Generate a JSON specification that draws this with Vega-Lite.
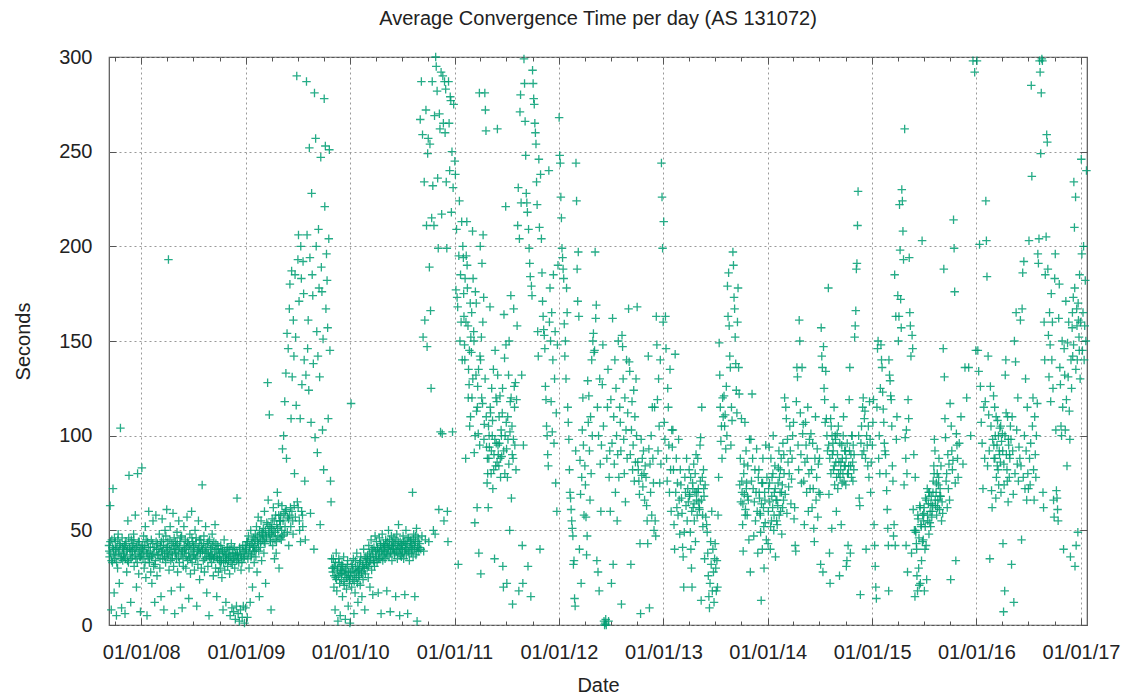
{
"$schema":"https://vega.github.io/schema/vega-lite/v6.json",
"width":978,"height":568,"autosize":"none",
"padding":{"left":109,"top":57,"right":37,"bottom":70},
"background":"white",
"title":{"text":"Average Convergence Time per day (AS 131072)","font":"Liberation Sans","fontSize":20,"fontWeight":"normal","color":"#222","offset":18},
"config":{"view":{"stroke":"#555","strokeWidth":1.2}},
"data":{"values":[
{"day":"2007-09-10","sec":42},{"day":"2007-09-12","sec":36},{"day":"2007-09-14","sec":63},{"day":"2007-09-16","sec":38},{"day":"2007-09-18","sec":8},{"day":"2007-09-20","sec":45},{"day":"2007-09-22","sec":33},{"day":"2007-09-24","sec":72},{"day":"2007-09-26","sec":40},{"day":"2007-09-28","sec":17},{"day":"2007-09-30","sec":35},
{"day":"2007-10-02","sec":44},{"day":"2007-10-04","sec":37},{"day":"2007-10-06","sec":5},{"day":"2007-10-08","sec":41},{"day":"2007-10-10","sec":30},{"day":"2007-10-12","sec":48},{"day":"2007-10-14","sec":39},{"day":"2007-10-16","sec":22},{"day":"2007-10-18","sec":43},{"day":"2007-10-20","sec":104},{"day":"2007-10-22","sec":36},{"day":"2007-10-24","sec":9},{"day":"2007-10-26","sec":46},{"day":"2007-10-28","sec":34},{"day":"2007-10-30","sec":40},
{"day":"2007-11-01","sec":38},{"day":"2007-11-03","sec":42},{"day":"2007-11-05","sec":6},{"day":"2007-11-07","sec":35},{"day":"2007-11-09","sec":44},{"day":"2007-11-11","sec":28},{"day":"2007-11-13","sec":40},{"day":"2007-11-15","sec":55},{"day":"2007-11-17","sec":33},{"day":"2007-11-19","sec":79},{"day":"2007-11-21","sec":41},{"day":"2007-11-23","sec":37},{"day":"2007-11-25","sec":12},{"day":"2007-11-27","sec":45},{"day":"2007-11-29","sec":39},
{"day":"2007-12-01","sec":36},{"day":"2007-12-03","sec":43},{"day":"2007-12-05","sec":48},{"day":"2007-12-07","sec":31},{"day":"2007-12-09","sec":40},{"day":"2007-12-11","sec":58},{"day":"2007-12-13","sec":35},{"day":"2007-12-15","sec":20},{"day":"2007-12-17","sec":42},{"day":"2007-12-19","sec":80},{"day":"2007-12-21","sec":38},{"day":"2007-12-23","sec":27},{"day":"2007-12-25","sec":44},{"day":"2007-12-27","sec":36},{"day":"2007-12-29","sec":7},{"day":"2007-12-31","sec":41},
{"day":"2008-01-03","sec":83},{"day":"2008-01-05","sec":40},{"day":"2008-01-07","sec":35},{"day":"2008-01-09","sec":47},{"day":"2008-01-11","sec":30},{"day":"2008-01-13","sec":42},{"day":"2008-01-15","sec":52},{"day":"2008-01-17","sec":25},{"day":"2008-01-19","sec":38},{"day":"2008-01-21","sec":5},{"day":"2008-01-23","sec":44},{"day":"2008-01-25","sec":36},{"day":"2008-01-27","sec":60},{"day":"2008-01-29","sec":33},
{"day":"2008-02-01","sec":39},{"day":"2008-02-03","sec":28},{"day":"2008-02-05","sec":45},{"day":"2008-02-07","sec":22},{"day":"2008-02-09","sec":37},{"day":"2008-02-11","sec":55},{"day":"2008-02-13","sec":31},{"day":"2008-02-15","sec":41},{"day":"2008-02-17","sec":12},{"day":"2008-02-19","sec":34},{"day":"2008-02-21","sec":58},{"day":"2008-02-23","sec":40},{"day":"2008-02-25","sec":26},{"day":"2008-02-27","sec":43},
{"day":"2008-03-02","sec":37},{"day":"2008-03-04","sec":48},{"day":"2008-03-06","sec":30},{"day":"2008-03-08","sec":42},{"day":"2008-03-10","sec":15},{"day":"2008-03-12","sec":39},{"day":"2008-03-14","sec":56},{"day":"2008-03-16","sec":35},{"day":"2008-03-18","sec":45},{"day":"2008-03-20","sec":8},{"day":"2008-03-22","sec":38},{"day":"2008-03-24","sec":50},{"day":"2008-03-26","sec":33},{"day":"2008-03-28","sec":41},{"day":"2008-03-30","sec":61},
{"day":"2008-04-01","sec":36},{"day":"2008-04-03","sec":44},{"day":"2008-04-05","sec":193},{"day":"2008-04-07","sec":29},{"day":"2008-04-09","sec":40},{"day":"2008-04-11","sec":52},{"day":"2008-04-13","sec":34},{"day":"2008-04-15","sec":18},{"day":"2008-04-17","sec":43},{"day":"2008-04-19","sec":37},{"day":"2008-04-21","sec":59},{"day":"2008-04-23","sec":31},{"day":"2008-04-25","sec":46},{"day":"2008-04-27","sec":6},{"day":"2008-04-29","sec":38},
{"day":"2008-05-01","sec":42},{"day":"2008-05-03","sec":35},{"day":"2008-05-05","sec":49},{"day":"2008-05-07","sec":28},{"day":"2008-05-09","sec":40},{"day":"2008-05-11","sec":55},{"day":"2008-05-13","sec":33},{"day":"2008-05-15","sec":44},{"day":"2008-05-17","sec":20},{"day":"2008-05-19","sec":37},{"day":"2008-05-21","sec":47},{"day":"2008-05-23","sec":9},{"day":"2008-05-25","sec":39},{"day":"2008-05-27","sec":31},{"day":"2008-05-29","sec":52},
{"day":"2008-06-01","sec":38},{"day":"2008-06-03","sec":45},{"day":"2008-06-05","sec":30},{"day":"2008-06-07","sec":41},{"day":"2008-06-09","sec":57},{"day":"2008-06-11","sec":34},{"day":"2008-06-13","sec":43},{"day":"2008-06-15","sec":14},{"day":"2008-06-17","sec":36},{"day":"2008-06-19","sec":48},{"day":"2008-06-21","sec":27},{"day":"2008-06-23","sec":40},{"day":"2008-06-25","sec":60},{"day":"2008-06-27","sec":33},{"day":"2008-06-29","sec":44},
{"day":"2008-07-01","sec":37},{"day":"2008-07-03","sec":42},{"day":"2008-07-05","sec":29},{"day":"2008-07-07","sec":50},{"day":"2008-07-09","sec":35},{"day":"2008-07-11","sec":46},{"day":"2008-07-13","sec":10},{"day":"2008-07-15","sec":39},{"day":"2008-07-17","sec":32},{"day":"2008-07-19","sec":55},{"day":"2008-07-21","sec":41},{"day":"2008-07-23","sec":24},{"day":"2008-07-25","sec":38},{"day":"2008-07-27","sec":45},{"day":"2008-07-29","sec":30},
{"day":"2008-08-01","sec":74},{"day":"2008-08-03","sec":40},{"day":"2008-08-05","sec":34},{"day":"2008-08-07","sec":47},{"day":"2008-08-09","sec":28},{"day":"2008-08-11","sec":39},{"day":"2008-08-13","sec":52},{"day":"2008-08-15","sec":36},{"day":"2008-08-17","sec":17},{"day":"2008-08-19","sec":43},{"day":"2008-08-21","sec":31},{"day":"2008-08-23","sec":38},{"day":"2008-08-25","sec":5},{"day":"2008-08-27","sec":45},{"day":"2008-08-29","sec":35},
{"day":"2008-09-01","sec":41},{"day":"2008-09-03","sec":33},{"day":"2008-09-05","sec":48},{"day":"2008-09-07","sec":37},{"day":"2008-09-09","sec":26},{"day":"2008-09-11","sec":44},{"day":"2008-09-13","sec":36},{"day":"2008-09-15","sec":53},{"day":"2008-09-17","sec":30},{"day":"2008-09-19","sec":40},{"day":"2008-09-21","sec":15},{"day":"2008-09-23","sec":35},{"day":"2008-09-25","sec":42},{"day":"2008-09-27","sec":28},{"day":"2008-09-29","sec":38},
{"day":"2008-10-01","sec":36},{"day":"2008-10-03","sec":30},{"day":"2008-10-05","sec":42},{"day":"2008-10-07","sec":34},{"day":"2008-10-09","sec":25},{"day":"2008-10-11","sec":39},{"day":"2008-10-13","sec":8},{"day":"2008-10-15","sec":33},{"day":"2008-10-17","sec":45},{"day":"2008-10-19","sec":29},{"day":"2008-10-21","sec":37},{"day":"2008-10-23","sec":12},{"day":"2008-10-25","sec":35},{"day":"2008-10-27","sec":41},{"day":"2008-10-29","sec":31},
{"day":"2008-11-01","sec":34},{"day":"2008-11-03","sec":38},{"day":"2008-11-05","sec":27},{"day":"2008-11-07","sec":5},{"day":"2008-11-09","sec":36},{"day":"2008-11-11","sec":43},{"day":"2008-11-13","sec":9},{"day":"2008-11-15","sec":32},{"day":"2008-11-17","sec":40},{"day":"2008-11-19","sec":7},{"day":"2008-11-21","sec":35},{"day":"2008-11-23","sec":30},{"day":"2008-11-25","sec":3},{"day":"2008-11-27","sec":38},{"day":"2008-11-29","sec":10},
{"day":"2008-12-01","sec":67},{"day":"2008-12-03","sec":37},{"day":"2008-12-05","sec":6},{"day":"2008-12-07","sec":33},{"day":"2008-12-09","sec":2},{"day":"2008-12-11","sec":40},{"day":"2008-12-13","sec":8},{"day":"2008-12-15","sec":29},{"day":"2008-12-17","sec":36},{"day":"2008-12-19","sec":4},{"day":"2008-12-21","sec":42},{"day":"2008-12-23","sec":10},{"day":"2008-12-25","sec":35},{"day":"2008-12-27","sec":1},{"day":"2008-12-29","sec":39},{"day":"2008-12-31","sec":9},
{"day":"2009-01-02","sec":38},{"day":"2009-01-04","sec":44},{"day":"2009-01-06","sec":4},{"day":"2009-01-08","sec":35},{"day":"2009-01-10","sec":47},{"day":"2009-01-12","sec":30},{"day":"2009-01-14","sec":41},{"day":"2009-01-16","sec":12},{"day":"2009-01-18","sec":50},{"day":"2009-01-20","sec":37},{"day":"2009-01-22","sec":43},{"day":"2009-01-24","sec":20},{"day":"2009-01-26","sec":39},{"day":"2009-01-28","sec":46},{"day":"2009-01-30","sec":33},
{"day":"2009-02-01","sec":42},{"day":"2009-02-03","sec":48},{"day":"2009-02-05","sec":36},{"day":"2009-02-07","sec":52},{"day":"2009-02-09","sec":28},{"day":"2009-02-11","sec":44},{"day":"2009-02-13","sec":57},{"day":"2009-02-15","sec":39},{"day":"2009-02-17","sec":15},{"day":"2009-02-19","sec":46},{"day":"2009-02-21","sec":41},{"day":"2009-02-23","sec":55},{"day":"2009-02-25","sec":34},{"day":"2009-02-27","sec":49},
{"day":"2009-03-01","sec":45},{"day":"2009-03-03","sec":51},{"day":"2009-03-05","sec":38},{"day":"2009-03-07","sec":60},{"day":"2009-03-09","sec":43},{"day":"2009-03-11","sec":22},{"day":"2009-03-13","sec":47},{"day":"2009-03-15","sec":54},{"day":"2009-03-18","sec":128},{"day":"2009-03-20","sec":66},{"day":"2009-03-22","sec":49},{"day":"2009-03-24","sec":111},{"day":"2009-03-26","sec":52},{"day":"2009-03-28","sec":44},{"day":"2009-03-30","sec":8},
{"day":"2009-04-01","sec":48},{"day":"2009-04-03","sec":56},{"day":"2009-04-05","sec":42},{"day":"2009-04-07","sec":62},{"day":"2009-04-09","sec":50},{"day":"2009-04-11","sec":35},{"day":"2009-04-13","sec":45},{"day":"2009-04-15","sec":58},{"day":"2009-04-17","sec":38},{"day":"2009-04-19","sec":53},{"day":"2009-04-21","sec":70},{"day":"2009-04-23","sec":47},{"day":"2009-04-25","sec":64},{"day":"2009-04-27","sec":30},{"day":"2009-04-29","sec":55},
{"day":"2009-05-01","sec":52},{"day":"2009-05-03","sec":58},{"day":"2009-05-05","sec":45},{"day":"2009-05-07","sec":63},{"day":"2009-05-09","sec":93},{"day":"2009-05-11","sec":55},{"day":"2009-05-13","sec":100},{"day":"2009-05-15","sec":48},{"day":"2009-05-17","sec":118},{"day":"2009-05-19","sec":60},{"day":"2009-05-21","sec":133},{"day":"2009-05-23","sec":88},{"day":"2009-05-25","sec":154},{"day":"2009-05-27","sec":57},{"day":"2009-05-29","sec":146},{"day":"2009-05-31","sec":42},
{"day":"2009-06-02","sec":167},{"day":"2009-06-04","sec":180},{"day":"2009-06-06","sec":62},{"day":"2009-06-08","sec":109},{"day":"2009-06-10","sec":187},{"day":"2009-06-12","sec":131},{"day":"2009-06-14","sec":55},{"day":"2009-06-16","sec":161},{"day":"2009-06-18","sec":142},{"day":"2009-06-20","sec":80},{"day":"2009-06-22","sec":185},{"day":"2009-06-24","sec":152},{"day":"2009-06-26","sec":116},{"day":"2009-06-28","sec":290},{"day":"2009-06-30","sec":65},
{"day":"2009-07-02","sec":193},{"day":"2009-07-04","sec":206},{"day":"2009-07-06","sec":171},{"day":"2009-07-08","sec":50},{"day":"2009-07-10","sec":109},{"day":"2009-07-12","sec":200},{"day":"2009-07-14","sec":183},{"day":"2009-07-16","sec":127},{"day":"2009-07-18","sec":58},{"day":"2009-07-20","sec":192},{"day":"2009-07-22","sec":175},{"day":"2009-07-24","sec":140},{"day":"2009-07-26","sec":76},{"day":"2009-07-28","sec":45},{"day":"2009-07-30","sec":132},
{"day":"2009-08-01","sec":287},{"day":"2009-08-03","sec":206},{"day":"2009-08-05","sec":146},{"day":"2009-08-07","sec":161},{"day":"2009-08-09","sec":124},{"day":"2009-08-11","sec":252},{"day":"2009-08-13","sec":194},{"day":"2009-08-15","sec":59},{"day":"2009-08-17","sec":107},{"day":"2009-08-19","sec":228},{"day":"2009-08-21","sec":185},{"day":"2009-08-23","sec":174},{"day":"2009-08-25","sec":138},{"day":"2009-08-27","sec":40},{"day":"2009-08-29","sec":281},{"day":"2009-08-31","sec":99},
{"day":"2009-09-02","sec":257},{"day":"2009-09-04","sec":200},{"day":"2009-09-06","sec":155},{"day":"2009-09-08","sec":91},{"day":"2009-09-10","sec":142},{"day":"2009-09-12","sec":209},{"day":"2009-09-14","sec":178},{"day":"2009-09-16","sec":131},{"day":"2009-09-18","sec":53},{"day":"2009-09-20","sec":247},{"day":"2009-09-22","sec":189},{"day":"2009-09-24","sec":176},{"day":"2009-09-26","sec":103},{"day":"2009-09-28","sec":151},{"day":"2009-09-30","sec":82},
{"day":"2009-10-02","sec":278},{"day":"2009-10-04","sec":221},{"day":"2009-10-06","sec":253},{"day":"2009-10-08","sec":167},{"day":"2009-10-10","sec":196},{"day":"2009-10-12","sec":182},{"day":"2009-10-14","sec":157},{"day":"2009-10-16","sec":109},{"day":"2009-10-18","sec":204},{"day":"2009-10-20","sec":251},{"day":"2009-10-22","sec":145},{"day":"2009-10-24","sec":76},{"day":"2009-10-26","sec":65},{"day":"2009-10-28","sec":35},{"day":"2009-10-30","sec":30},
{"day":"2009-11-01","sec":28},{"day":"2009-11-03","sec":35},{"day":"2009-11-05","sec":20},{"day":"2009-11-07","sec":31},{"day":"2009-11-09","sec":8},{"day":"2009-11-11","sec":25},{"day":"2009-11-13","sec":38},{"day":"2009-11-15","sec":18},{"day":"2009-11-17","sec":30},{"day":"2009-11-19","sec":2},{"day":"2009-11-21","sec":26},{"day":"2009-11-23","sec":33},{"day":"2009-11-25","sec":22},{"day":"2009-11-27","sec":5},{"day":"2009-11-29","sec":29},
{"day":"2009-12-01","sec":24},{"day":"2009-12-03","sec":32},{"day":"2009-12-05","sec":15},{"day":"2009-12-07","sec":28},{"day":"2009-12-09","sec":36},{"day":"2009-12-11","sec":21},{"day":"2009-12-13","sec":27},{"day":"2009-12-15","sec":3},{"day":"2009-12-17","sec":30},{"day":"2009-12-19","sec":19},{"day":"2009-12-21","sec":25},{"day":"2009-12-23","sec":34},{"day":"2009-12-25","sec":10},{"day":"2009-12-27","sec":26},{"day":"2009-12-29","sec":22},{"day":"2009-12-31","sec":1},
{"day":"2010-01-02","sec":28},{"day":"2010-01-04","sec":117},{"day":"2010-01-06","sec":20},{"day":"2010-01-08","sec":31},{"day":"2010-01-10","sec":24},{"day":"2010-01-12","sec":35},{"day":"2010-01-14","sec":6},{"day":"2010-01-16","sec":27},{"day":"2010-01-18","sec":17},{"day":"2010-01-20","sec":30},{"day":"2010-01-22","sec":25},{"day":"2010-01-24","sec":38},{"day":"2010-01-26","sec":22},{"day":"2010-01-28","sec":12},{"day":"2010-01-30","sec":29},
{"day":"2010-02-01","sec":26},{"day":"2010-02-03","sec":33},{"day":"2010-02-05","sec":21},{"day":"2010-02-07","sec":36},{"day":"2010-02-09","sec":28},{"day":"2010-02-11","sec":15},{"day":"2010-02-13","sec":31},{"day":"2010-02-15","sec":24},{"day":"2010-02-17","sec":40},{"day":"2010-02-19","sec":30},{"day":"2010-02-21","sec":8},{"day":"2010-02-23","sec":27},{"day":"2010-02-25","sec":35},{"day":"2010-02-27","sec":32},
{"day":"2010-03-01","sec":30},{"day":"2010-03-03","sec":37},{"day":"2010-03-05","sec":25},{"day":"2010-03-07","sec":42},{"day":"2010-03-09","sec":33},{"day":"2010-03-11","sec":20},{"day":"2010-03-13","sec":36},{"day":"2010-03-15","sec":45},{"day":"2010-03-17","sec":29},{"day":"2010-03-19","sec":39},{"day":"2010-03-21","sec":16},{"day":"2010-03-23","sec":34},{"day":"2010-03-25","sec":41},{"day":"2010-03-27","sec":31},{"day":"2010-03-29","sec":47},
{"day":"2010-04-01","sec":36},{"day":"2010-04-03","sec":44},{"day":"2010-04-05","sec":33},{"day":"2010-04-07","sec":40},{"day":"2010-04-09","sec":17},{"day":"2010-04-11","sec":38},{"day":"2010-04-13","sec":46},{"day":"2010-04-15","sec":35},{"day":"2010-04-17","sec":42},{"day":"2010-04-19","sec":6},{"day":"2010-04-21","sec":39},{"day":"2010-04-23","sec":48},{"day":"2010-04-25","sec":34},{"day":"2010-04-27","sec":43},{"day":"2010-04-29","sec":37},
{"day":"2010-05-01","sec":41},{"day":"2010-05-03","sec":35},{"day":"2010-05-05","sec":45},{"day":"2010-05-07","sec":38},{"day":"2010-05-09","sec":18},{"day":"2010-05-11","sec":44},{"day":"2010-05-13","sec":40},{"day":"2010-05-15","sec":50},{"day":"2010-05-17","sec":36},{"day":"2010-05-19","sec":42},{"day":"2010-05-21","sec":7},{"day":"2010-05-23","sec":39},{"day":"2010-05-25","sec":47},{"day":"2010-05-27","sec":34},{"day":"2010-05-29","sec":44},
{"day":"2010-06-01","sec":40},{"day":"2010-06-03","sec":46},{"day":"2010-06-05","sec":37},{"day":"2010-06-07","sec":43},{"day":"2010-06-09","sec":15},{"day":"2010-06-11","sec":39},{"day":"2010-06-13","sec":48},{"day":"2010-06-15","sec":35},{"day":"2010-06-17","sec":42},{"day":"2010-06-19","sec":53},{"day":"2010-06-21","sec":38},{"day":"2010-06-23","sec":5},{"day":"2010-06-25","sec":44},{"day":"2010-06-27","sec":40},{"day":"2010-06-29","sec":36},
{"day":"2010-07-01","sec":42},{"day":"2010-07-03","sec":38},{"day":"2010-07-05","sec":47},{"day":"2010-07-07","sec":35},{"day":"2010-07-09","sec":44},{"day":"2010-07-11","sec":16},{"day":"2010-07-13","sec":40},{"day":"2010-07-15","sec":50},{"day":"2010-07-17","sec":37},{"day":"2010-07-19","sec":43},{"day":"2010-07-21","sec":6},{"day":"2010-07-23","sec":39},{"day":"2010-07-25","sec":46},{"day":"2010-07-27","sec":34},{"day":"2010-07-29","sec":41},
{"day":"2010-08-01","sec":45},{"day":"2010-08-03","sec":38},{"day":"2010-08-05","sec":42},{"day":"2010-08-07","sec":70},{"day":"2010-08-09","sec":36},{"day":"2010-08-11","sec":48},{"day":"2010-08-13","sec":40},{"day":"2010-08-15","sec":15},{"day":"2010-08-17","sec":44},{"day":"2010-08-19","sec":37},{"day":"2010-08-21","sec":51},{"day":"2010-08-23","sec":2},{"day":"2010-08-25","sec":41},{"day":"2010-08-27","sec":46},{"day":"2010-08-29","sec":39},
{"day":"2010-09-01","sec":43},{"day":"2010-09-03","sec":267},{"day":"2010-09-05","sec":40},{"day":"2010-09-07","sec":287},{"day":"2010-09-09","sec":47},{"day":"2010-09-11","sec":259},{"day":"2010-09-13","sec":152},{"day":"2010-09-15","sec":39},{"day":"2010-09-17","sec":234},{"day":"2010-09-19","sec":161},{"day":"2010-09-21","sec":45},{"day":"2010-09-23","sec":272},{"day":"2010-09-25","sec":211},{"day":"2010-09-27","sec":147},{"day":"2010-09-29","sec":249},
{"day":"2010-10-01","sec":257},{"day":"2010-10-03","sec":44},{"day":"2010-10-05","sec":189},{"day":"2010-10-07","sec":254},{"day":"2010-10-09","sec":166},{"day":"2010-10-11","sec":125},{"day":"2010-10-13","sec":215},{"day":"2010-10-15","sec":287},{"day":"2010-10-17","sec":232},{"day":"2010-10-19","sec":50},{"day":"2010-10-21","sec":211},{"day":"2010-10-23","sec":269},{"day":"2010-10-25","sec":48},{"day":"2010-10-27","sec":300},{"day":"2010-10-29","sec":295},
{"day":"2010-11-01","sec":282},{"day":"2010-11-03","sec":236},{"day":"2010-11-05","sec":199},{"day":"2010-11-07","sec":61},{"day":"2010-11-09","sec":270},{"day":"2010-11-11","sec":262},{"day":"2010-11-13","sec":102},{"day":"2010-11-15","sec":292},{"day":"2010-11-17","sec":217},{"day":"2010-11-19","sec":101},{"day":"2010-11-21","sec":290},{"day":"2010-11-23","sec":265},{"day":"2010-11-25","sec":55},{"day":"2010-11-27","sec":287},{"day":"2010-11-29","sec":260},
{"day":"2010-12-01","sec":283},{"day":"2010-12-03","sec":234},{"day":"2010-12-05","sec":199},{"day":"2010-12-07","sec":60},{"day":"2010-12-09","sec":44},{"day":"2010-12-11","sec":287},{"day":"2010-12-13","sec":265},{"day":"2010-12-15","sec":240},{"day":"2010-12-17","sec":279},{"day":"2010-12-19","sec":277},{"day":"2010-12-21","sec":218},{"day":"2010-12-23","sec":250},{"day":"2010-12-25","sec":102},{"day":"2010-12-27","sec":231},{"day":"2010-12-29","sec":275},
{"day":"2011-01-02","sec":245},{"day":"2011-01-04","sec":238},{"day":"2011-01-06","sec":177},{"day":"2011-01-08","sec":209},{"day":"2011-01-10","sec":173},{"day":"2011-01-12","sec":168},{"day":"2011-01-14","sec":32},{"day":"2011-01-16","sec":195},{"day":"2011-01-18","sec":224},{"day":"2011-01-20","sec":150},{"day":"2011-01-22","sec":185},{"day":"2011-01-24","sec":160},{"day":"2011-01-26","sec":213},{"day":"2011-01-28","sec":140},{"day":"2011-01-30","sec":200},
{"day":"2011-02-01","sec":194},{"day":"2011-02-03","sec":163},{"day":"2011-02-05","sec":148},{"day":"2011-02-07","sec":183},{"day":"2011-02-09","sec":88},{"day":"2011-02-11","sec":195},{"day":"2011-02-13","sec":213},{"day":"2011-02-15","sec":178},{"day":"2011-02-17","sec":158},{"day":"2011-02-19","sec":135},{"day":"2011-02-21","sec":127},{"day":"2011-02-23","sec":105},{"day":"2011-02-25","sec":170},{"day":"2011-02-27","sec":152},
{"day":"2011-03-01","sec":144},{"day":"2011-03-03","sec":120},{"day":"2011-03-05","sec":208},{"day":"2011-03-07","sec":183},{"day":"2011-03-09","sec":155},{"day":"2011-03-11","sec":91},{"day":"2011-03-13","sec":54},{"day":"2011-03-15","sec":176},{"day":"2011-03-17","sec":132},{"day":"2011-03-19","sec":113},{"day":"2011-03-21","sec":62},{"day":"2011-03-23","sec":126},{"day":"2011-03-25","sec":101},{"day":"2011-03-27","sec":38},{"day":"2011-03-29","sec":281},{"day":"2011-03-31","sec":142},
{"day":"2011-04-01","sec":200},{"day":"2011-04-03","sec":27},{"day":"2011-04-05","sec":152},{"day":"2011-04-07","sec":191},{"day":"2011-04-09","sec":117},{"day":"2011-04-11","sec":206},{"day":"2011-04-13","sec":173},{"day":"2011-04-15","sec":106},{"day":"2011-04-17","sec":281},{"day":"2011-04-19","sec":272},{"day":"2011-04-21","sec":261},{"day":"2011-04-23","sec":94},{"day":"2011-04-25","sec":75},{"day":"2011-04-27","sec":80},{"day":"2011-04-29","sec":62},
{"day":"2011-05-01","sec":88},{"day":"2011-05-03","sec":94},{"day":"2011-05-05","sec":168},{"day":"2011-05-07","sec":112},{"day":"2011-05-09","sec":80},{"day":"2011-05-11","sec":125},{"day":"2011-05-13","sec":100},{"day":"2011-05-15","sec":72},{"day":"2011-05-17","sec":135},{"day":"2011-05-19","sec":90},{"day":"2011-05-21","sec":35},{"day":"2011-05-23","sec":145},{"day":"2011-05-25","sec":84},{"day":"2011-05-27","sec":96},{"day":"2011-05-29","sec":118},{"day":"2011-05-31","sec":262},
{"day":"2011-06-01","sec":132},{"day":"2011-06-03","sec":90},{"day":"2011-06-05","sec":84},{"day":"2011-06-07","sec":96},{"day":"2011-06-09","sec":121},{"day":"2011-06-11","sec":78},{"day":"2011-06-13","sec":103},{"day":"2011-06-15","sec":89},{"day":"2011-06-17","sec":112},{"day":"2011-06-19","sec":31},{"day":"2011-06-21","sec":20},{"day":"2011-06-23","sec":164},{"day":"2011-06-25","sec":141},{"day":"2011-06-27","sec":100},{"day":"2011-06-29","sec":221},{"day":"2011-06-30","sec":148},
{"day":"2011-07-01","sec":107},{"day":"2011-07-03","sec":22},{"day":"2011-07-05","sec":78},{"day":"2011-07-07","sec":98},{"day":"2011-07-09","sec":132},{"day":"2011-07-11","sec":150},{"day":"2011-07-13","sec":50},{"day":"2011-07-15","sec":118},{"day":"2011-07-17","sec":174},{"day":"2011-07-19","sec":67},{"day":"2011-07-21","sec":105},{"day":"2011-07-23","sec":11},{"day":"2011-07-25","sec":88},{"day":"2011-07-27","sec":167},{"day":"2011-07-29","sec":126},{"day":"2011-07-31","sec":95},
{"day":"2011-08-02","sec":128},{"day":"2011-08-04","sec":82},{"day":"2011-08-06","sec":119},{"day":"2011-08-08","sec":158},{"day":"2011-08-10","sec":211},{"day":"2011-08-12","sec":231},{"day":"2011-08-14","sec":18},{"day":"2011-08-16","sec":204},{"day":"2011-08-18","sec":271},{"day":"2011-08-20","sec":280},{"day":"2011-08-22","sec":223},{"day":"2011-08-24","sec":132},{"day":"2011-08-26","sec":42},{"day":"2011-08-28","sec":22},{"day":"2011-08-30","sec":95},
{"day":"2011-09-01","sec":299},{"day":"2011-09-03","sec":286},{"day":"2011-09-05","sec":266},{"day":"2011-09-07","sec":248},{"day":"2011-09-09","sec":228},{"day":"2011-09-11","sec":223},{"day":"2011-09-13","sec":218},{"day":"2011-09-15","sec":31},{"day":"2011-09-17","sec":209},{"day":"2011-09-19","sec":199},{"day":"2011-09-21","sec":191},{"day":"2011-09-23","sec":184},{"day":"2011-09-25","sec":15},{"day":"2011-09-27","sec":179},{"day":"2011-09-29","sec":174},
{"day":"2011-10-01","sec":293},{"day":"2011-10-03","sec":286},{"day":"2011-10-05","sec":278},{"day":"2011-10-07","sec":275},{"day":"2011-10-09","sec":265},{"day":"2011-10-11","sec":260},{"day":"2011-10-13","sec":254},{"day":"2011-10-15","sec":234},{"day":"2011-10-17","sec":222},{"day":"2011-10-19","sec":155},{"day":"2011-10-21","sec":142},{"day":"2011-10-23","sec":246},{"day":"2011-10-25","sec":210},{"day":"2011-10-27","sec":40},{"day":"2011-10-29","sec":238},
{"day":"2011-11-01","sec":204},{"day":"2011-11-03","sec":186},{"day":"2011-11-05","sec":171},{"day":"2011-11-07","sec":163},{"day":"2011-11-09","sec":156},{"day":"2011-11-11","sec":153},{"day":"2011-11-13","sec":146},{"day":"2011-11-15","sec":126},{"day":"2011-11-17","sec":119},{"day":"2011-11-19","sec":105},{"day":"2011-11-21","sec":100},{"day":"2011-11-23","sec":90},{"day":"2011-11-25","sec":84},{"day":"2011-11-27","sec":240},{"day":"2011-11-29","sec":160},
{"day":"2011-12-01","sec":178},{"day":"2011-12-03","sec":150},{"day":"2011-12-05","sec":118},{"day":"2011-12-07","sec":165},{"day":"2011-12-09","sec":102},{"day":"2011-12-11","sec":140},{"day":"2011-12-13","sec":185},{"day":"2011-12-15","sec":96},{"day":"2011-12-17","sec":130},{"day":"2011-12-19","sec":155},{"day":"2011-12-21","sec":75},{"day":"2011-12-23","sec":112},{"day":"2011-12-25","sec":60},{"day":"2011-12-27","sec":148},{"day":"2011-12-29","sec":190},
{"day":"2012-01-02","sec":268},{"day":"2012-01-04","sec":248},{"day":"2012-01-06","sec":244},{"day":"2012-01-08","sec":226},{"day":"2012-01-10","sec":215},{"day":"2012-01-12","sec":199},{"day":"2012-01-14","sec":194},{"day":"2012-01-16","sec":188},{"day":"2012-01-18","sec":183},{"day":"2012-01-20","sec":159},{"day":"2012-01-22","sec":142},{"day":"2012-01-24","sec":150},{"day":"2012-01-26","sec":130},{"day":"2012-01-28","sec":178},{"day":"2012-01-30","sec":165},
{"day":"2012-02-01","sec":115},{"day":"2012-02-03","sec":107},{"day":"2012-02-05","sec":98},{"day":"2012-02-07","sec":82},{"day":"2012-02-09","sec":70},{"day":"2012-02-11","sec":67},{"day":"2012-02-13","sec":61},{"day":"2012-02-15","sec":55},{"day":"2012-02-17","sec":51},{"day":"2012-02-19","sec":47},{"day":"2012-02-21","sec":32},{"day":"2012-02-23","sec":34},{"day":"2012-02-25","sec":14},{"day":"2012-02-27","sec":10},{"day":"2012-02-29","sec":92},
{"day":"2012-03-01","sec":244},{"day":"2012-03-03","sec":224},{"day":"2012-03-05","sec":188},{"day":"2012-03-07","sec":171},{"day":"2012-03-09","sec":197},{"day":"2012-03-11","sec":163},{"day":"2012-03-13","sec":40},{"day":"2012-03-15","sec":87},{"day":"2012-03-17","sec":69},{"day":"2012-03-19","sec":22},{"day":"2012-03-21","sec":78},{"day":"2012-03-23","sec":103},{"day":"2012-03-25","sec":120},{"day":"2012-03-27","sec":95},{"day":"2012-03-29","sec":58},
{"day":"2012-04-01","sec":84},{"day":"2012-04-03","sec":74},{"day":"2012-04-05","sec":57},{"day":"2012-04-07","sec":37},{"day":"2012-04-09","sec":47},{"day":"2012-04-11","sec":129},{"day":"2012-04-13","sec":107},{"day":"2012-04-15","sec":121},{"day":"2012-04-17","sec":92},{"day":"2012-04-19","sec":66},{"day":"2012-04-21","sec":110},{"day":"2012-04-23","sec":80},{"day":"2012-04-25","sec":140},{"day":"2012-04-27","sec":100},{"day":"2012-04-29","sec":150},
{"day":"2012-05-01","sec":154},{"day":"2012-05-03","sec":144},{"day":"2012-05-05","sec":145},{"day":"2012-05-07","sec":197},{"day":"2012-05-09","sec":162},{"day":"2012-05-11","sec":169},{"day":"2012-05-13","sec":34},{"day":"2012-05-15","sec":115},{"day":"2012-05-17","sec":28},{"day":"2012-05-19","sec":100},{"day":"2012-05-21","sec":18},{"day":"2012-05-23","sec":130},{"day":"2012-05-25","sec":85},{"day":"2012-05-27","sec":60},{"day":"2012-05-29","sec":95},
{"day":"2012-06-01","sec":127},{"day":"2012-06-03","sec":148},{"day":"2012-06-05","sec":105},{"day":"2012-06-07","sec":2},{"day":"2012-06-09","sec":0},{"day":"2012-06-11","sec":1},{"day":"2012-06-13","sec":3},{"day":"2012-06-15","sec":0},{"day":"2012-06-17","sec":88},{"day":"2012-06-19","sec":115},{"day":"2012-06-21","sec":135},{"day":"2012-06-23","sec":2},{"day":"2012-06-25","sec":78},{"day":"2012-06-27","sec":92},{"day":"2012-06-29","sec":60},
{"day":"2012-07-01","sec":119},{"day":"2012-07-03","sec":22},{"day":"2012-07-05","sec":96},{"day":"2012-07-07","sec":162},{"day":"2012-07-09","sec":32},{"day":"2012-07-11","sec":110},{"day":"2012-07-13","sec":85},{"day":"2012-07-15","sec":140},{"day":"2012-07-17","sec":70},{"day":"2012-07-19","sec":125},{"day":"2012-07-21","sec":100},{"day":"2012-07-23","sec":55},{"day":"2012-07-25","sec":90},{"day":"2012-07-27","sec":150},{"day":"2012-07-29","sec":78},
{"day":"2012-08-01","sec":115},{"day":"2012-08-03","sec":107},{"day":"2012-08-05","sec":92},{"day":"2012-08-07","sec":11},{"day":"2012-08-09","sec":153},{"day":"2012-08-11","sec":147},{"day":"2012-08-13","sec":130},{"day":"2012-08-15","sec":98},{"day":"2012-08-17","sec":80},{"day":"2012-08-19","sec":120},{"day":"2012-08-21","sec":65},{"day":"2012-08-23","sec":103},{"day":"2012-08-25","sec":140},{"day":"2012-08-27","sec":88},{"day":"2012-08-29","sec":112},
{"day":"2012-09-01","sec":167},{"day":"2012-09-03","sec":139},{"day":"2012-09-05","sec":134},{"day":"2012-09-07","sec":90},{"day":"2012-09-09","sec":32},{"day":"2012-09-11","sec":103},{"day":"2012-09-13","sec":118},{"day":"2012-09-15","sec":82},{"day":"2012-09-17","sec":95},{"day":"2012-09-19","sec":124},{"day":"2012-09-21","sec":76},{"day":"2012-09-23","sec":110},{"day":"2012-09-25","sec":86},{"day":"2012-09-27","sec":130},{"day":"2012-09-29","sec":100},
{"day":"2012-10-01","sec":168},{"day":"2012-10-03","sec":86},{"day":"2012-10-05","sec":82},{"day":"2012-10-07","sec":76},{"day":"2012-10-09","sec":69},{"day":"2012-10-11","sec":43},{"day":"2012-10-13","sec":6},{"day":"2012-10-15","sec":98},{"day":"2012-10-17","sec":79},{"day":"2012-10-19","sec":88},{"day":"2012-10-21","sec":73},{"day":"2012-10-23","sec":92},{"day":"2012-10-25","sec":80},{"day":"2012-10-27","sec":66},{"day":"2012-10-29","sec":84},
{"day":"2012-11-01","sec":78},{"day":"2012-11-03","sec":63},{"day":"2012-11-05","sec":55},{"day":"2012-11-07","sec":43},{"day":"2012-11-09","sec":142},{"day":"2012-11-11","sec":93},{"day":"2012-11-13","sec":9},{"day":"2012-11-15","sec":85},{"day":"2012-11-17","sec":70},{"day":"2012-11-19","sec":100},{"day":"2012-11-21","sec":58},{"day":"2012-11-23","sec":115},{"day":"2012-11-25","sec":88},{"day":"2012-11-27","sec":75},{"day":"2012-11-29","sec":50},
{"day":"2012-12-01","sec":115},{"day":"2012-12-03","sec":55},{"day":"2012-12-05","sec":47},{"day":"2012-12-07","sec":163},{"day":"2012-12-09","sec":148},{"day":"2012-12-11","sec":119},{"day":"2012-12-13","sec":92},{"day":"2012-12-15","sec":130},{"day":"2012-12-17","sec":105},{"day":"2012-12-19","sec":75},{"day":"2012-12-21","sec":140},{"day":"2012-12-23","sec":85},{"day":"2012-12-25","sec":244},{"day":"2012-12-27","sec":226},{"day":"2012-12-29","sec":199},{"day":"2012-12-31","sec":160},
{"day":"2013-01-02","sec":213},{"day":"2013-01-04","sec":107},{"day":"2013-01-06","sec":98},{"day":"2013-01-08","sec":163},{"day":"2013-01-10","sec":146},{"day":"2013-01-12","sec":88},{"day":"2013-01-14","sec":76},{"day":"2013-01-16","sec":125},{"day":"2013-01-18","sec":115},{"day":"2013-01-20","sec":95},{"day":"2013-01-22","sec":70},{"day":"2013-01-24","sec":135},{"day":"2013-01-26","sec":82},{"day":"2013-01-28","sec":60},{"day":"2013-01-30","sec":103},
{"day":"2013-02-01","sec":94},{"day":"2013-02-03","sec":103},{"day":"2013-02-05","sec":82},{"day":"2013-02-07","sec":53},{"day":"2013-02-09","sec":40},{"day":"2013-02-11","sec":143},{"day":"2013-02-13","sec":70},{"day":"2013-02-15","sec":88},{"day":"2013-02-17","sec":62},{"day":"2013-02-19","sec":75},{"day":"2013-02-21","sec":58},{"day":"2013-02-23","sec":98},{"day":"2013-02-25","sec":66},{"day":"2013-02-27","sec":48},
{"day":"2013-03-01","sec":82},{"day":"2013-03-03","sec":74},{"day":"2013-03-05","sec":67},{"day":"2013-03-07","sec":59},{"day":"2013-03-09","sec":41},{"day":"2013-03-11","sec":36},{"day":"2013-03-13","sec":20},{"day":"2013-03-15","sec":49},{"day":"2013-03-17","sec":78},{"day":"2013-03-19","sec":70},{"day":"2013-03-21","sec":63},{"day":"2013-03-23","sec":88},{"day":"2013-03-25","sec":55},{"day":"2013-03-27","sec":72},{"day":"2013-03-29","sec":65},
{"day":"2013-04-01","sec":82},{"day":"2013-04-03","sec":69},{"day":"2013-04-05","sec":49},{"day":"2013-04-07","sec":40},{"day":"2013-04-09","sec":30},{"day":"2013-04-11","sec":20},{"day":"2013-04-13","sec":75},{"day":"2013-04-15","sec":62},{"day":"2013-04-17","sec":85},{"day":"2013-04-19","sec":55},{"day":"2013-04-21","sec":70},{"day":"2013-04-23","sec":44},{"day":"2013-04-25","sec":90},{"day":"2013-04-27","sec":66},{"day":"2013-04-29","sec":58},
{"day":"2013-05-01","sec":88},{"day":"2013-05-03","sec":72},{"day":"2013-05-05","sec":65},{"day":"2013-05-07","sec":61},{"day":"2013-05-09","sec":95},{"day":"2013-05-11","sec":99},{"day":"2013-05-13","sec":13},{"day":"2013-05-15","sec":115},{"day":"2013-05-17","sec":78},{"day":"2013-05-19","sec":52},{"day":"2013-05-21","sec":82},{"day":"2013-05-23","sec":68},{"day":"2013-05-25","sec":35},{"day":"2013-05-27","sec":74},{"day":"2013-05-29","sec":57},
{"day":"2013-06-01","sec":53},{"day":"2013-06-03","sec":49},{"day":"2013-06-05","sec":38},{"day":"2013-06-07","sec":26},{"day":"2013-06-09","sec":15},{"day":"2013-06-11","sec":9},{"day":"2013-06-13","sec":22},{"day":"2013-06-15","sec":44},{"day":"2013-06-17","sec":32},{"day":"2013-06-19","sec":60},{"day":"2013-06-21","sec":18},{"day":"2013-06-23","sec":40},{"day":"2013-06-25","sec":28},{"day":"2013-06-27","sec":12},{"day":"2013-06-29","sec":35},
{"day":"2013-07-01","sec":43},{"day":"2013-07-03","sec":30},{"day":"2013-07-05","sec":18},{"day":"2013-07-07","sec":34},{"day":"2013-07-09","sec":20},{"day":"2013-07-11","sec":58},{"day":"2013-07-13","sec":78},{"day":"2013-07-15","sec":149},{"day":"2013-07-17","sec":132},{"day":"2013-07-19","sec":115},{"day":"2013-07-21","sec":97},{"day":"2013-07-23","sec":105},{"day":"2013-07-25","sec":88},{"day":"2013-07-27","sec":120},{"day":"2013-07-29","sec":110},
{"day":"2013-08-01","sec":121},{"day":"2013-08-03","sec":105},{"day":"2013-08-05","sec":111},{"day":"2013-08-07","sec":93},{"day":"2013-08-09","sec":126},{"day":"2013-08-11","sec":100},{"day":"2013-08-13","sec":179},{"day":"2013-08-15","sec":163},{"day":"2013-08-17","sec":186},{"day":"2013-08-19","sec":158},{"day":"2013-08-21","sec":142},{"day":"2013-08-23","sec":136},{"day":"2013-08-25","sec":95},{"day":"2013-08-27","sec":115},{"day":"2013-08-29","sec":108},
{"day":"2013-09-01","sec":197},{"day":"2013-09-03","sec":190},{"day":"2013-09-05","sec":173},{"day":"2013-09-07","sec":167},{"day":"2013-09-09","sec":152},{"day":"2013-09-11","sec":138},{"day":"2013-09-13","sec":124},{"day":"2013-09-15","sec":112},{"day":"2013-09-17","sec":160},{"day":"2013-09-19","sec":178},{"day":"2013-09-21","sec":136},{"day":"2013-09-23","sec":122},{"day":"2013-09-25","sec":74},{"day":"2013-09-27","sec":88},{"day":"2013-09-29","sec":65},
{"day":"2013-10-01","sec":109},{"day":"2013-10-03","sec":70},{"day":"2013-10-05","sec":53},{"day":"2013-10-07","sec":39},{"day":"2013-10-09","sec":80},{"day":"2013-10-11","sec":69},{"day":"2013-10-13","sec":107},{"day":"2013-10-15","sec":61},{"day":"2013-10-17","sec":92},{"day":"2013-10-19","sec":75},{"day":"2013-10-21","sec":58},{"day":"2013-10-23","sec":84},{"day":"2013-10-25","sec":66},{"day":"2013-10-27","sec":45},{"day":"2013-10-29","sec":98},
{"day":"2013-11-01","sec":28},{"day":"2013-11-03","sec":98},{"day":"2013-11-05","sec":76},{"day":"2013-11-07","sec":122},{"day":"2013-11-09","sec":88},{"day":"2013-11-11","sec":72},{"day":"2013-11-13","sec":47},{"day":"2013-11-15","sec":65},{"day":"2013-11-17","sec":82},{"day":"2013-11-19","sec":55},{"day":"2013-11-21","sec":70},{"day":"2013-11-23","sec":93},{"day":"2013-11-25","sec":60},{"day":"2013-11-27","sec":38},{"day":"2013-11-29","sec":78},
{"day":"2013-12-01","sec":82},{"day":"2013-12-03","sec":67},{"day":"2013-12-05","sec":59},{"day":"2013-12-07","sec":49},{"day":"2013-12-09","sec":13},{"day":"2013-12-11","sec":75},{"day":"2013-12-13","sec":40},{"day":"2013-12-15","sec":88},{"day":"2013-12-17","sec":62},{"day":"2013-12-19","sec":30},{"day":"2013-12-21","sec":70},{"day":"2013-12-23","sec":54},{"day":"2013-12-25","sec":95},{"day":"2013-12-27","sec":45},{"day":"2013-12-29","sec":78},
{"day":"2014-01-02","sec":43},{"day":"2014-01-04","sec":72},{"day":"2014-01-06","sec":94},{"day":"2014-01-08","sec":65},{"day":"2014-01-10","sec":40},{"day":"2014-01-12","sec":88},{"day":"2014-01-14","sec":55},{"day":"2014-01-16","sec":78},{"day":"2014-01-18","sec":62},{"day":"2014-01-20","sec":100},{"day":"2014-01-22","sec":50},{"day":"2014-01-24","sec":70},{"day":"2014-01-26","sec":84},{"day":"2014-01-28","sec":36},{"day":"2014-01-30","sec":66},
{"day":"2014-02-01","sec":55},{"day":"2014-02-03","sec":53},{"day":"2014-02-05","sec":63},{"day":"2014-02-07","sec":83},{"day":"2014-02-09","sec":92},{"day":"2014-02-11","sec":78},{"day":"2014-02-13","sec":70},{"day":"2014-02-15","sec":60},{"day":"2014-02-17","sec":88},{"day":"2014-02-19","sec":48},{"day":"2014-02-21","sec":74},{"day":"2014-02-23","sec":96},{"day":"2014-02-25","sec":66},{"day":"2014-02-27","sec":80},
{"day":"2014-03-01","sec":120},{"day":"2014-03-03","sec":69},{"day":"2014-03-05","sec":115},{"day":"2014-03-07","sec":109},{"day":"2014-03-09","sec":59},{"day":"2014-03-11","sec":98},{"day":"2014-03-13","sec":86},{"day":"2014-03-15","sec":73},{"day":"2014-03-17","sec":80},{"day":"2014-03-19","sec":105},{"day":"2014-03-21","sec":92},{"day":"2014-03-23","sec":64},{"day":"2014-03-25","sec":77},{"day":"2014-03-27","sec":88},{"day":"2014-03-29","sec":100},
{"day":"2014-04-01","sec":107},{"day":"2014-04-03","sec":56},{"day":"2014-04-05","sec":62},{"day":"2014-04-07","sec":42},{"day":"2014-04-09","sec":39},{"day":"2014-04-11","sec":118},{"day":"2014-04-13","sec":136},{"day":"2014-04-15","sec":131},{"day":"2014-04-17","sec":95},{"day":"2014-04-19","sec":82},{"day":"2014-04-21","sec":161},{"day":"2014-04-23","sec":150},{"day":"2014-04-25","sec":112},{"day":"2014-04-27","sec":90},{"day":"2014-04-29","sec":75},
{"day":"2014-05-01","sec":136},{"day":"2014-05-03","sec":101},{"day":"2014-05-05","sec":106},{"day":"2014-05-07","sec":76},{"day":"2014-05-09","sec":53},{"day":"2014-05-11","sec":86},{"day":"2014-05-13","sec":107},{"day":"2014-05-15","sec":95},{"day":"2014-05-17","sec":70},{"day":"2014-05-19","sec":88},{"day":"2014-05-21","sec":115},{"day":"2014-05-23","sec":60},{"day":"2014-05-25","sec":80},{"day":"2014-05-27","sec":98},{"day":"2014-05-29","sec":72},
{"day":"2014-06-01","sec":101},{"day":"2014-06-03","sec":82},{"day":"2014-06-05","sec":62},{"day":"2014-06-07","sec":96},{"day":"2014-06-09","sec":72},{"day":"2014-06-11","sec":51},{"day":"2014-06-13","sec":44},{"day":"2014-06-15","sec":88},{"day":"2014-06-17","sec":110},{"day":"2014-06-19","sec":66},{"day":"2014-06-21","sec":78},{"day":"2014-06-23","sec":93},{"day":"2014-06-25","sec":57},{"day":"2014-06-27","sec":85},{"day":"2014-06-29","sec":70},
{"day":"2014-07-01","sec":88},{"day":"2014-07-03","sec":69},{"day":"2014-07-05","sec":32},{"day":"2014-07-07","sec":157},{"day":"2014-07-09","sec":142},{"day":"2014-07-11","sec":136},{"day":"2014-07-13","sec":28},{"day":"2014-07-15","sec":147},{"day":"2014-07-17","sec":125},{"day":"2014-07-19","sec":119},{"day":"2014-07-21","sec":107},{"day":"2014-07-23","sec":134},{"day":"2014-07-25","sec":109},{"day":"2014-07-27","sec":100},{"day":"2014-07-29","sec":92},
{"day":"2014-08-01","sec":178},{"day":"2014-08-03","sec":69},{"day":"2014-08-05","sec":38},{"day":"2014-08-07","sec":22},{"day":"2014-08-09","sec":109},{"day":"2014-08-11","sec":105},{"day":"2014-08-13","sec":51},{"day":"2014-08-15","sec":90},{"day":"2014-08-17","sec":96},{"day":"2014-08-19","sec":82},{"day":"2014-08-21","sec":115},{"day":"2014-08-23","sec":74},{"day":"2014-08-25","sec":100},{"day":"2014-08-27","sec":86},{"day":"2014-08-29","sec":60},
{"day":"2014-09-01","sec":101},{"day":"2014-09-03","sec":72},{"day":"2014-09-05","sec":105},{"day":"2014-09-07","sec":86},{"day":"2014-09-09","sec":26},{"day":"2014-09-11","sec":78},{"day":"2014-09-13","sec":82},{"day":"2014-09-15","sec":53},{"day":"2014-09-17","sec":95},{"day":"2014-09-19","sec":88},{"day":"2014-09-21","sec":80},{"day":"2014-09-23","sec":110},{"day":"2014-09-25","sec":76},{"day":"2014-09-27","sec":92},{"day":"2014-09-29","sec":84},
{"day":"2014-10-01","sec":74},{"day":"2014-10-03","sec":31},{"day":"2014-10-05","sec":34},{"day":"2014-10-07","sec":80},{"day":"2014-10-09","sec":42},{"day":"2014-10-11","sec":84},{"day":"2014-10-13","sec":119},{"day":"2014-10-15","sec":136},{"day":"2014-10-17","sec":38},{"day":"2014-10-19","sec":90},{"day":"2014-10-21","sec":78},{"day":"2014-10-23","sec":100},{"day":"2014-10-25","sec":86},{"day":"2014-10-27","sec":95},{"day":"2014-10-29","sec":82},
{"day":"2014-11-01","sec":152},{"day":"2014-11-03","sec":158},{"day":"2014-11-05","sec":166},{"day":"2014-11-07","sec":188},{"day":"2014-11-09","sec":191},{"day":"2014-11-11","sec":211},{"day":"2014-11-13","sec":229},{"day":"2014-11-15","sec":100},{"day":"2014-11-17","sec":67},{"day":"2014-11-19","sec":63},{"day":"2014-11-21","sec":16},{"day":"2014-11-23","sec":96},{"day":"2014-11-25","sec":105},{"day":"2014-11-27","sec":90},{"day":"2014-11-29","sec":115},
{"day":"2014-12-01","sec":120},{"day":"2014-12-03","sec":92},{"day":"2014-12-05","sec":109},{"day":"2014-12-07","sec":113},{"day":"2014-12-09","sec":88},{"day":"2014-12-11","sec":40},{"day":"2014-12-13","sec":100},{"day":"2014-12-15","sec":95},{"day":"2014-12-17","sec":84},{"day":"2014-12-19","sec":105},{"day":"2014-12-21","sec":78},{"day":"2014-12-23","sec":118},{"day":"2014-12-25","sec":98},{"day":"2014-12-27","sec":70},{"day":"2014-12-29","sec":86},
{"day":"2015-01-02","sec":95},{"day":"2015-01-04","sec":107},{"day":"2015-01-06","sec":119},{"day":"2015-01-08","sec":53},{"day":"2015-01-10","sec":42},{"day":"2015-01-12","sec":31},{"day":"2015-01-14","sec":20},{"day":"2015-01-16","sec":14},{"day":"2015-01-18","sec":115},{"day":"2015-01-20","sec":146},{"day":"2015-01-22","sec":150},{"day":"2015-01-24","sec":88},{"day":"2015-01-26","sec":100},{"day":"2015-01-28","sec":80},{"day":"2015-01-30","sec":125},
{"day":"2015-02-01","sec":148},{"day":"2015-02-03","sec":140},{"day":"2015-02-05","sec":136},{"day":"2015-02-07","sec":123},{"day":"2015-02-09","sec":114},{"day":"2015-02-11","sec":107},{"day":"2015-02-13","sec":96},{"day":"2015-02-15","sec":92},{"day":"2015-02-17","sec":90},{"day":"2015-02-19","sec":80},{"day":"2015-02-21","sec":71},{"day":"2015-02-23","sec":61},{"day":"2015-02-25","sec":51},{"day":"2015-02-27","sec":42},{"day":"2015-02-28","sec":18},
{"day":"2015-03-01","sec":140},{"day":"2015-03-03","sec":132},{"day":"2015-03-05","sec":129},{"day":"2015-03-07","sec":121},{"day":"2015-03-09","sec":119},{"day":"2015-03-11","sec":105},{"day":"2015-03-13","sec":84},{"day":"2015-03-15","sec":76},{"day":"2015-03-17","sec":47},{"day":"2015-03-19","sec":53},{"day":"2015-03-21","sec":185},{"day":"2015-03-23","sec":42},{"day":"2015-03-25","sec":163},{"day":"2015-03-27","sec":98},{"day":"2015-03-29","sec":110},
{"day":"2015-04-01","sec":174},{"day":"2015-04-03","sec":150},{"day":"2015-04-05","sec":163},{"day":"2015-04-07","sec":222},{"day":"2015-04-09","sec":198},{"day":"2015-04-11","sec":172},{"day":"2015-04-13","sec":157},{"day":"2015-04-15","sec":230},{"day":"2015-04-17","sec":224},{"day":"2015-04-19","sec":208},{"day":"2015-04-21","sec":193},{"day":"2015-04-23","sec":74},{"day":"2015-04-25","sec":262},{"day":"2015-04-27","sec":99},{"day":"2015-04-29","sec":88},{"day":"2015-04-30","sec":42},
{"day":"2015-05-01","sec":103},{"day":"2015-05-03","sec":80},{"day":"2015-05-05","sec":28},{"day":"2015-05-07","sec":119},{"day":"2015-05-09","sec":109},{"day":"2015-05-11","sec":194},{"day":"2015-05-13","sec":165},{"day":"2015-05-15","sec":158},{"day":"2015-05-17","sec":142},{"day":"2015-05-19","sec":38},{"day":"2015-05-21","sec":153},{"day":"2015-05-23","sec":146},{"day":"2015-05-25","sec":61},{"day":"2015-05-27","sec":90},{"day":"2015-05-29","sec":50},{"day":"2015-05-31","sec":15},
{"day":"2015-06-01","sec":78},{"day":"2015-06-03","sec":49},{"day":"2015-06-05","sec":43},{"day":"2015-06-07","sec":26},{"day":"2015-06-09","sec":18},{"day":"2015-06-11","sec":56},{"day":"2015-06-13","sec":30},{"day":"2015-06-15","sec":21},{"day":"2015-06-17","sec":63},{"day":"2015-06-19","sec":22},{"day":"2015-06-21","sec":53},{"day":"2015-06-23","sec":34},{"day":"2015-06-25","sec":203},{"day":"2015-06-27","sec":58},{"day":"2015-06-29","sec":45},
{"day":"2015-07-01","sec":59},{"day":"2015-07-03","sec":18},{"day":"2015-07-05","sec":40},{"day":"2015-07-07","sec":67},{"day":"2015-07-09","sec":42},{"day":"2015-07-11","sec":24},{"day":"2015-07-13","sec":72},{"day":"2015-07-15","sec":55},{"day":"2015-07-17","sec":64},{"day":"2015-07-19","sec":48},{"day":"2015-07-21","sec":70},{"day":"2015-07-23","sec":60},{"day":"2015-07-25","sec":52},{"day":"2015-07-27","sec":68},{"day":"2015-07-29","sec":57},
{"day":"2015-08-01","sec":63},{"day":"2015-08-03","sec":76},{"day":"2015-08-05","sec":84},{"day":"2015-08-07","sec":98},{"day":"2015-08-09","sec":92},{"day":"2015-08-11","sec":63},{"day":"2015-08-13","sec":70},{"day":"2015-08-15","sec":58},{"day":"2015-08-17","sec":80},{"day":"2015-08-19","sec":66},{"day":"2015-08-21","sec":74},{"day":"2015-08-23","sec":88},{"day":"2015-08-25","sec":61},{"day":"2015-08-27","sec":72},{"day":"2015-08-29","sec":68},
{"day":"2015-09-01","sec":55},{"day":"2015-09-03","sec":65},{"day":"2015-09-05","sec":59},{"day":"2015-09-07","sec":146},{"day":"2015-09-09","sec":188},{"day":"2015-09-11","sec":131},{"day":"2015-09-13","sec":109},{"day":"2015-09-15","sec":99},{"day":"2015-09-17","sec":76},{"day":"2015-09-19","sec":80},{"day":"2015-09-21","sec":62},{"day":"2015-09-23","sec":90},{"day":"2015-09-25","sec":72},{"day":"2015-09-27","sec":85},{"day":"2015-09-29","sec":66},
{"day":"2015-10-01","sec":117},{"day":"2015-10-03","sec":24},{"day":"2015-10-05","sec":105},{"day":"2015-10-07","sec":92},{"day":"2015-10-09","sec":82},{"day":"2015-10-11","sec":87},{"day":"2015-10-13","sec":214},{"day":"2015-10-15","sec":199},{"day":"2015-10-17","sec":176},{"day":"2015-10-19","sec":75},{"day":"2015-10-21","sec":34},{"day":"2015-10-23","sec":101},{"day":"2015-10-25","sec":95},{"day":"2015-10-27","sec":88},{"day":"2015-10-29","sec":78},
{"day":"2015-11-02","sec":96},{"day":"2015-11-08","sec":110},{"day":"2015-11-15","sec":85},{"day":"2015-11-22","sec":136},{"day":"2015-11-28","sec":120},
{"day":"2015-12-05","sec":136},{"day":"2015-12-12","sec":100},{"day":"2015-12-20","sec":298},{"day":"2015-12-26","sec":292},{"day":"2015-12-30","sec":145},
{"day":"2016-01-03","sec":298},{"day":"2016-01-06","sec":145},{"day":"2016-01-09","sec":134},{"day":"2016-01-12","sec":201},{"day":"2016-01-15","sec":126},{"day":"2016-01-18","sec":107},{"day":"2016-01-21","sec":96},{"day":"2016-01-24","sec":72},{"day":"2016-01-27","sec":115},{"day":"2016-01-30","sec":88},
{"day":"2016-02-01","sec":118},{"day":"2016-02-03","sec":224},{"day":"2016-02-05","sec":203},{"day":"2016-02-07","sec":184},{"day":"2016-02-09","sec":84},{"day":"2016-02-11","sec":142},{"day":"2016-02-13","sec":111},{"day":"2016-02-15","sec":92},{"day":"2016-02-17","sec":35},{"day":"2016-02-19","sec":126},{"day":"2016-02-21","sec":105},{"day":"2016-02-23","sec":71},{"day":"2016-02-25","sec":62},{"day":"2016-02-27","sec":98},
{"day":"2016-03-01","sec":121},{"day":"2016-03-03","sec":88},{"day":"2016-03-05","sec":115},{"day":"2016-03-07","sec":100},{"day":"2016-03-09","sec":67},{"day":"2016-03-11","sec":78},{"day":"2016-03-13","sec":95},{"day":"2016-03-15","sec":108},{"day":"2016-03-17","sec":82},{"day":"2016-03-19","sec":74},{"day":"2016-03-21","sec":92},{"day":"2016-03-23","sec":104},{"day":"2016-03-25","sec":86},{"day":"2016-03-27","sec":70},{"day":"2016-03-29","sec":97},
{"day":"2016-04-01","sec":101},{"day":"2016-04-03","sec":43},{"day":"2016-04-05","sec":7},{"day":"2016-04-07","sec":74},{"day":"2016-04-09","sec":18},{"day":"2016-04-11","sec":132},{"day":"2016-04-13","sec":140},{"day":"2016-04-15","sec":90},{"day":"2016-04-17","sec":82},{"day":"2016-04-19","sec":110},{"day":"2016-04-21","sec":65},{"day":"2016-04-23","sec":95},{"day":"2016-04-25","sec":78},{"day":"2016-04-27","sec":88},{"day":"2016-04-29","sec":105},
{"day":"2016-05-01","sec":98},{"day":"2016-05-03","sec":32},{"day":"2016-05-05","sec":110},{"day":"2016-05-07","sec":92},{"day":"2016-05-09","sec":69},{"day":"2016-05-11","sec":12},{"day":"2016-05-13","sec":150},{"day":"2016-05-15","sec":80},{"day":"2016-05-17","sec":139},{"day":"2016-05-19","sec":165},{"day":"2016-05-21","sec":103},{"day":"2016-05-23","sec":85},{"day":"2016-05-25","sec":120},{"day":"2016-05-27","sec":76},{"day":"2016-05-29","sec":94},
{"day":"2016-06-01","sec":88},{"day":"2016-06-03","sec":161},{"day":"2016-06-05","sec":84},{"day":"2016-06-07","sec":45},{"day":"2016-06-09","sec":167},{"day":"2016-06-11","sec":186},{"day":"2016-06-13","sec":78},{"day":"2016-06-15","sec":192},{"day":"2016-06-17","sec":100},{"day":"2016-06-19","sec":72},{"day":"2016-06-21","sec":130},{"day":"2016-06-23","sec":92},{"day":"2016-06-25","sec":66},{"day":"2016-06-27","sec":115},{"day":"2016-06-29","sec":80},
{"day":"2016-07-01","sec":72},{"day":"2016-07-03","sec":203},{"day":"2016-07-05","sec":88},{"day":"2016-07-07","sec":74},{"day":"2016-07-09","sec":96},{"day":"2016-07-11","sec":285},{"day":"2016-07-13","sec":237},{"day":"2016-07-15","sec":105},{"day":"2016-07-17","sec":120},{"day":"2016-07-19","sec":82},{"day":"2016-07-21","sec":66},{"day":"2016-07-23","sec":110},{"day":"2016-07-25","sec":90},{"day":"2016-07-27","sec":78},{"day":"2016-07-29","sec":100},
{"day":"2016-08-01","sec":117},{"day":"2016-08-03","sec":196},{"day":"2016-08-05","sec":191},{"day":"2016-08-07","sec":204},{"day":"2016-08-09","sec":298},{"day":"2016-08-11","sec":292},{"day":"2016-08-13","sec":249},{"day":"2016-08-15","sec":281},{"day":"2016-08-17","sec":299},{"day":"2016-08-19","sec":298},{"day":"2016-08-21","sec":70},{"day":"2016-08-23","sec":62},{"day":"2016-08-25","sec":160},{"day":"2016-08-27","sec":140},{"day":"2016-08-29","sec":185},
{"day":"2016-09-01","sec":205},{"day":"2016-09-03","sec":259},{"day":"2016-09-05","sec":255},{"day":"2016-09-07","sec":188},{"day":"2016-09-09","sec":153},{"day":"2016-09-11","sec":131},{"day":"2016-09-13","sec":165},{"day":"2016-09-15","sec":148},{"day":"2016-09-17","sec":118},{"day":"2016-09-19","sec":175},{"day":"2016-09-21","sec":140},{"day":"2016-09-23","sec":160},{"day":"2016-09-25","sec":125},{"day":"2016-09-27","sec":66},{"day":"2016-09-29","sec":57},
{"day":"2016-10-01","sec":183},{"day":"2016-10-03","sec":196},{"day":"2016-10-05","sec":103},{"day":"2016-10-07","sec":71},{"day":"2016-10-09","sec":67},{"day":"2016-10-11","sec":61},{"day":"2016-10-13","sec":55},{"day":"2016-10-15","sec":162},{"day":"2016-10-17","sec":180},{"day":"2016-10-19","sec":136},{"day":"2016-10-21","sec":127},{"day":"2016-10-23","sec":105},{"day":"2016-10-25","sec":100},{"day":"2016-10-27","sec":150},{"day":"2016-10-29","sec":115},
{"day":"2016-11-01","sec":40},{"day":"2016-11-03","sec":146},{"day":"2016-11-05","sec":132},{"day":"2016-11-07","sec":103},{"day":"2016-11-09","sec":171},{"day":"2016-11-11","sec":119},{"day":"2016-11-13","sec":84},{"day":"2016-11-15","sec":149},{"day":"2016-11-17","sec":131},{"day":"2016-11-19","sec":160},{"day":"2016-11-21","sec":113},{"day":"2016-11-23","sec":98},{"day":"2016-11-25","sec":36},{"day":"2016-11-27","sec":140},{"day":"2016-11-29","sec":125},
{"day":"2016-12-01","sec":157},{"day":"2016-12-03","sec":142},{"day":"2016-12-05","sec":173},{"day":"2016-12-07","sec":234},{"day":"2016-12-09","sec":210},{"day":"2016-12-11","sec":31},{"day":"2016-12-13","sec":226},{"day":"2016-12-15","sec":42},{"day":"2016-12-17","sec":167},{"day":"2016-12-19","sec":140},{"day":"2016-12-21","sec":49},{"day":"2016-12-23","sec":161},{"day":"2016-12-25","sec":152},{"day":"2016-12-27","sec":185},{"day":"2016-12-29","sec":130},
{"day":"2017-01-02","sec":246},{"day":"2017-01-04","sec":196},{"day":"2017-01-06","sec":145},{"day":"2017-01-08","sec":165},{"day":"2017-01-10","sec":200},{"day":"2017-01-12","sec":140},{"day":"2017-01-14","sec":158},{"day":"2017-01-16","sec":182},{"day":"2017-01-18","sec":150},{"day":"2017-01-20","sec":240},
{"day":"2007-09-11","sec":39},{"day":"2007-09-15","sec":44},{"day":"2007-09-19","sec":34},{"day":"2007-09-23","sec":41},{"day":"2007-09-27","sec":37},{"day":"2007-09-29","sec":46},
{"day":"2007-10-03","sec":40},{"day":"2007-10-07","sec":33},{"day":"2007-10-11","sec":45},{"day":"2007-10-15","sec":38},{"day":"2007-10-19","sec":42},{"day":"2007-10-23","sec":35},{"day":"2007-10-27","sec":41},{"day":"2007-10-31","sec":37},
{"day":"2007-11-02","sec":36},{"day":"2007-11-06","sec":43},{"day":"2007-11-10","sec":39},{"day":"2007-11-14","sec":34},{"day":"2007-11-18","sec":46},{"day":"2007-11-22","sec":40},{"day":"2007-11-26","sec":35},{"day":"2007-11-30","sec":42},
{"day":"2007-12-02","sec":39},{"day":"2007-12-06","sec":45},{"day":"2007-12-10","sec":37},{"day":"2007-12-14","sec":41},{"day":"2007-12-18","sec":33},{"day":"2007-12-22","sec":44},{"day":"2007-12-26","sec":39},{"day":"2007-12-30","sec":36},
{"day":"2008-01-02","sec":37},{"day":"2008-01-06","sec":42},{"day":"2008-01-10","sec":39},{"day":"2008-01-14","sec":33},{"day":"2008-01-18","sec":45},{"day":"2008-01-22","sec":38},{"day":"2008-01-26","sec":41},{"day":"2008-01-30","sec":35},
{"day":"2008-02-02","sec":41},{"day":"2008-02-06","sec":36},{"day":"2008-02-10","sec":43},{"day":"2008-02-14","sec":38},{"day":"2008-02-18","sec":32},{"day":"2008-02-22","sec":44},{"day":"2008-02-26","sec":37},
{"day":"2008-03-03","sec":40},{"day":"2008-03-07","sec":35},{"day":"2008-03-11","sec":44},{"day":"2008-03-15","sec":39},{"day":"2008-03-19","sec":42},{"day":"2008-03-23","sec":36},{"day":"2008-03-27","sec":47},{"day":"2008-03-31","sec":38},
{"day":"2008-04-02","sec":41},{"day":"2008-04-06","sec":37},{"day":"2008-04-10","sec":45},{"day":"2008-04-14","sec":39},{"day":"2008-04-18","sec":35},{"day":"2008-04-22","sec":42},{"day":"2008-04-26","sec":40},{"day":"2008-04-30","sec":44},
{"day":"2008-05-02","sec":38},{"day":"2008-05-06","sec":43},{"day":"2008-05-10","sec":36},{"day":"2008-05-14","sec":41},{"day":"2008-05-18","sec":46},{"day":"2008-05-22","sec":39},{"day":"2008-05-26","sec":35},{"day":"2008-05-30","sec":42},
{"day":"2008-06-02","sec":40},{"day":"2008-06-06","sec":36},{"day":"2008-06-10","sec":44},{"day":"2008-06-14","sec":38},{"day":"2008-06-18","sec":42},{"day":"2008-06-22","sec":35},{"day":"2008-06-26","sec":46},{"day":"2008-06-30","sec":39},
{"day":"2008-07-02","sec":41},{"day":"2008-07-06","sec":37},{"day":"2008-07-10","sec":43},{"day":"2008-07-14","sec":36},{"day":"2008-07-18","sec":40},{"day":"2008-07-22","sec":45},{"day":"2008-07-26","sec":38},{"day":"2008-07-30","sec":42},
{"day":"2008-08-02","sec":39},{"day":"2008-08-06","sec":43},{"day":"2008-08-10","sec":35},{"day":"2008-08-14","sec":41},{"day":"2008-08-18","sec":38},{"day":"2008-08-22","sec":44},{"day":"2008-08-26","sec":36},{"day":"2008-08-30","sec":40},
{"day":"2008-09-02","sec":37},{"day":"2008-09-06","sec":42},{"day":"2008-09-10","sec":35},{"day":"2008-09-14","sec":39},{"day":"2008-09-18","sec":43},{"day":"2008-09-22","sec":36},{"day":"2008-09-26","sec":40},{"day":"2008-09-30","sec":34},
{"day":"2008-10-02","sec":38},{"day":"2008-10-06","sec":33},{"day":"2008-10-10","sec":40},{"day":"2008-10-14","sec":36},{"day":"2008-10-18","sec":39},{"day":"2008-10-22","sec":34},{"day":"2008-10-26","sec":37},{"day":"2008-10-30","sec":41},
{"day":"2008-11-02","sec":36},{"day":"2008-11-06","sec":40},{"day":"2008-11-10","sec":33},{"day":"2008-11-14","sec":38},{"day":"2008-11-18","sec":35},{"day":"2008-11-22","sec":41},{"day":"2008-11-26","sec":37},{"day":"2008-11-30","sec":34},
{"day":"2008-12-02","sec":38},{"day":"2008-12-06","sec":35},{"day":"2008-12-10","sec":41},{"day":"2008-12-14","sec":37},{"day":"2008-12-18","sec":33},{"day":"2008-12-22","sec":39},{"day":"2008-12-26","sec":36},{"day":"2008-12-30","sec":42},
{"day":"2009-01-03","sec":40},{"day":"2009-01-07","sec":44},{"day":"2009-01-11","sec":38},{"day":"2009-01-15","sec":42},{"day":"2009-01-19","sec":36},{"day":"2009-01-23","sec":45},{"day":"2009-01-27","sec":41},{"day":"2009-01-31","sec":39},
{"day":"2009-02-02","sec":45},{"day":"2009-02-06","sec":40},{"day":"2009-02-10","sec":47},{"day":"2009-02-14","sec":43},{"day":"2009-02-18","sec":50},{"day":"2009-02-22","sec":44},{"day":"2009-02-26","sec":48},
{"day":"2009-03-02","sec":47},{"day":"2009-03-06","sec":44},{"day":"2009-03-10","sec":50},{"day":"2009-03-14","sec":46},{"day":"2009-03-19","sec":53},{"day":"2009-03-23","sec":48},{"day":"2009-03-27","sec":45},{"day":"2009-03-31","sec":51},
{"day":"2009-04-02","sec":52},{"day":"2009-04-06","sec":47},{"day":"2009-04-10","sec":55},{"day":"2009-04-14","sec":49},{"day":"2009-04-18","sec":44},{"day":"2009-04-22","sec":51},{"day":"2009-04-26","sec":58},{"day":"2009-04-30","sec":46},
{"day":"2009-05-02","sec":55},{"day":"2009-05-06","sec":50},{"day":"2009-05-10","sec":47},{"day":"2009-05-14","sec":59},{"day":"2009-05-18","sec":52},{"day":"2009-05-22","sec":61},{"day":"2009-05-26","sec":49},{"day":"2009-05-30","sec":56},
{"day":"2009-06-03","sec":58},{"day":"2009-06-07","sec":52},{"day":"2009-06-11","sec":60},{"day":"2009-06-15","sec":48},{"day":"2009-06-19","sec":63},{"day":"2009-06-23","sec":57},
{"day":"2009-07-03","sec":62},{"day":"2009-07-07","sec":55},{"day":"2009-07-11","sec":44},{"day":"2009-07-15","sec":60},{"day":"2009-07-19","sec":52},
{"day":"2009-11-02","sec":30},{"day":"2009-11-06","sec":26},{"day":"2009-11-10","sec":33},{"day":"2009-11-14","sec":24},{"day":"2009-11-18","sec":29},{"day":"2009-11-22","sec":35},{"day":"2009-11-26","sec":27},{"day":"2009-11-30","sec":31},
{"day":"2009-12-02","sec":27},{"day":"2009-12-06","sec":31},{"day":"2009-12-10","sec":23},{"day":"2009-12-14","sec":29},{"day":"2009-12-18","sec":25},{"day":"2009-12-22","sec":32},{"day":"2009-12-26","sec":28},{"day":"2009-12-30","sec":24},
{"day":"2010-01-03","sec":26},{"day":"2010-01-07","sec":32},{"day":"2010-01-11","sec":29},{"day":"2010-01-15","sec":23},{"day":"2010-01-19","sec":34},{"day":"2010-01-23","sec":28},{"day":"2010-01-27","sec":31},{"day":"2010-01-31","sec":25},
{"day":"2010-02-02","sec":29},{"day":"2010-02-06","sec":34},{"day":"2010-02-10","sec":27},{"day":"2010-02-14","sec":32},{"day":"2010-02-18","sec":30},{"day":"2010-02-22","sec":36},{"day":"2010-02-26","sec":33},
{"day":"2010-03-02","sec":35},{"day":"2010-03-06","sec":31},{"day":"2010-03-10","sec":38},{"day":"2010-03-14","sec":34},{"day":"2010-03-18","sec":40},{"day":"2010-03-22","sec":36},{"day":"2010-03-26","sec":33},{"day":"2010-03-30","sec":39},
{"day":"2010-04-02","sec":37},{"day":"2010-04-06","sec":41},{"day":"2010-04-10","sec":35},{"day":"2010-04-14","sec":39},{"day":"2010-04-18","sec":43},{"day":"2010-04-22","sec":36},{"day":"2010-04-26","sec":40},{"day":"2010-04-30","sec":42},
{"day":"2010-05-02","sec":39},{"day":"2010-05-06","sec":43},{"day":"2010-05-10","sec":37},{"day":"2010-05-14","sec":41},{"day":"2010-05-18","sec":45},{"day":"2010-05-22","sec":38},{"day":"2010-05-26","sec":42},{"day":"2010-05-30","sec":40},
{"day":"2010-06-02","sec":42},{"day":"2010-06-06","sec":38},{"day":"2010-06-10","sec":45},{"day":"2010-06-14","sec":40},{"day":"2010-06-18","sec":44},{"day":"2010-06-22","sec":41},{"day":"2010-06-26","sec":37},{"day":"2010-06-30","sec":43},
{"day":"2010-07-02","sec":40},{"day":"2010-07-06","sec":44},{"day":"2010-07-10","sec":39},{"day":"2010-07-14","sec":43},{"day":"2010-07-18","sec":41},{"day":"2010-07-22","sec":46},{"day":"2010-07-26","sec":38},{"day":"2010-07-30","sec":44},
{"day":"2010-08-02","sec":43},{"day":"2010-08-06","sec":40},{"day":"2010-08-10","sec":45},{"day":"2010-08-14","sec":42},{"day":"2010-08-18","sec":47},{"day":"2010-08-22","sec":39},{"day":"2010-08-26","sec":44},{"day":"2010-08-30","sec":41},
{"day":"2011-02-02","sec":175},{"day":"2011-02-06","sec":140},{"day":"2011-02-10","sec":160},{"day":"2011-02-14","sec":190},{"day":"2011-02-18","sec":120},{"day":"2011-02-22","sec":145},{"day":"2011-02-26","sec":110},
{"day":"2011-03-02","sec":165},{"day":"2011-03-06","sec":130},{"day":"2011-03-10","sec":150},{"day":"2011-03-14","sec":100},{"day":"2011-03-18","sec":170},{"day":"2011-03-22","sec":115},{"day":"2011-03-26","sec":135},{"day":"2011-03-30","sec":95},
{"day":"2011-04-02","sec":140},{"day":"2011-04-06","sec":120},{"day":"2011-04-10","sec":160},{"day":"2011-04-14","sec":98},{"day":"2011-04-18","sec":130},{"day":"2011-04-22","sec":110},{"day":"2011-04-26","sec":88},{"day":"2011-04-30","sec":105},
{"day":"2011-05-02","sec":100},{"day":"2011-05-06","sec":115},{"day":"2011-05-10","sec":92},{"day":"2011-05-14","sec":108},{"day":"2011-05-18","sec":82},{"day":"2011-05-22","sec":98},{"day":"2011-05-26","sec":120},{"day":"2011-05-30","sec":86},
{"day":"2011-06-02","sec":95},{"day":"2011-06-06","sec":110},{"day":"2011-06-10","sec":88},{"day":"2011-06-14","sec":100},{"day":"2011-06-18","sec":125},{"day":"2011-06-22","sec":92},{"day":"2011-06-26","sec":80},
{"day":"2011-07-02","sec":93},{"day":"2011-07-06","sec":110},{"day":"2011-07-10","sec":85},{"day":"2011-07-14","sec":102},{"day":"2011-07-18","sec":120},{"day":"2011-07-22","sec":90},{"day":"2011-07-26","sec":98},{"day":"2011-07-30","sec":115},
{"day":"2013-04-02","sec":68},{"day":"2013-04-06","sec":78},{"day":"2013-04-10","sec":60},{"day":"2013-04-14","sec":72},{"day":"2013-04-18","sec":64},{"day":"2013-04-22","sec":80},{"day":"2013-04-26","sec":70},
{"day":"2013-05-02","sec":70},{"day":"2013-05-06","sec":62},{"day":"2013-05-10","sec":76},{"day":"2013-05-14","sec":66},{"day":"2013-05-18","sec":58},{"day":"2013-05-22","sec":72},
{"day":"2013-10-02","sec":76},{"day":"2013-10-06","sec":64},{"day":"2013-10-10","sec":85},{"day":"2013-10-14","sec":58},{"day":"2013-10-18","sec":72},{"day":"2013-10-22","sec":68},
{"day":"2013-12-02","sec":70},{"day":"2013-12-06","sec":58},{"day":"2013-12-10","sec":64},{"day":"2013-12-14","sec":75},{"day":"2013-12-18","sec":52},{"day":"2013-12-22","sec":66},
{"day":"2014-01-03","sec":60},{"day":"2014-01-07","sec":75},{"day":"2014-01-11","sec":52},{"day":"2014-01-15","sec":68},{"day":"2014-01-19","sec":80},{"day":"2014-01-23","sec":58},{"day":"2014-01-27","sec":72},
{"day":"2014-02-02","sec":66},{"day":"2014-02-06","sec":75},{"day":"2014-02-10","sec":58},{"day":"2014-02-14","sec":82},{"day":"2014-02-18","sec":70},{"day":"2014-02-22","sec":62},{"day":"2014-02-26","sec":90},
{"day":"2014-08-02","sec":95},{"day":"2014-08-06","sec":88},{"day":"2014-08-10","sec":80},{"day":"2014-08-14","sec":100},{"day":"2014-08-18","sec":92},{"day":"2014-08-22","sec":84},{"day":"2014-08-26","sec":98},{"day":"2014-08-30","sec":78},
{"day":"2014-09-02","sec":90},{"day":"2014-09-06","sec":80},{"day":"2014-09-10","sec":96},{"day":"2014-09-14","sec":86},{"day":"2014-09-18","sec":75},{"day":"2014-09-22","sec":100},{"day":"2014-09-26","sec":84},{"day":"2014-09-30","sec":92},
{"day":"2014-10-02","sec":88},{"day":"2014-10-06","sec":96},{"day":"2014-10-10","sec":80},{"day":"2014-10-14","sec":92},{"day":"2014-10-18","sec":84},{"day":"2014-10-22","sec":100},{"day":"2014-10-26","sec":76},{"day":"2014-10-30","sec":90},
{"day":"2015-06-02","sec":50},{"day":"2015-06-06","sec":40},{"day":"2015-06-10","sec":58},{"day":"2015-06-14","sec":46},{"day":"2015-06-18","sec":62},{"day":"2015-06-22","sec":52},{"day":"2015-06-26","sec":44},{"day":"2015-06-30","sec":55},
{"day":"2015-07-02","sec":62},{"day":"2015-07-06","sec":52},{"day":"2015-07-10","sec":66},{"day":"2015-07-14","sec":58},{"day":"2015-07-18","sec":70},{"day":"2015-07-22","sec":54},{"day":"2015-07-26","sec":64},{"day":"2015-07-30","sec":60},
{"day":"2015-08-02","sec":70},{"day":"2015-08-06","sec":80},{"day":"2015-08-10","sec":66},{"day":"2015-08-14","sec":75},{"day":"2015-08-18","sec":62},{"day":"2015-08-22","sec":78},{"day":"2015-08-26","sec":68},{"day":"2015-08-30","sec":84},
{"day":"2016-03-02","sec":95},{"day":"2016-03-06","sec":88},{"day":"2016-03-10","sec":110},{"day":"2016-03-14","sec":84},{"day":"2016-03-18","sec":100},{"day":"2016-03-22","sec":90},{"day":"2016-03-26","sec":105},
{"day":"2016-04-02","sec":92},{"day":"2016-04-06","sec":85},{"day":"2016-04-10","sec":100},{"day":"2016-04-14","sec":112},{"day":"2016-04-18","sec":76},{"day":"2016-04-22","sec":98},{"day":"2016-04-26","sec":90},
{"day":"2016-12-02","sec":165},{"day":"2016-12-06","sec":148},{"day":"2016-12-10","sec":178},{"day":"2016-12-14","sec":135},{"day":"2016-12-18","sec":158},{"day":"2016-12-22","sec":170},{"day":"2016-12-26","sec":145},{"day":"2016-12-30","sec":160}
]},
"layer":[
{"mark":{"type":"point","shape":"M-1,0H1M0,-1V1","size":72,"strokeWidth":1.3,"color":"#009e73","filled":false,"opacity":0.85},
 "encoding":{
  "x":{"field":"day","type":"temporal","scale":{"domain":[{"year":2007,"month":9,"date":10},{"year":2017,"month":1,"date":22}]},
   "axis":{"orient":"bottom","values":[{"year":2007,"month":10,"date":1},{"year":2008,"month":1,"date":1},{"year":2008,"month":4,"date":1},{"year":2008,"month":7,"date":1},{"year":2008,"month":10,"date":1},{"year":2009,"month":1,"date":1},{"year":2009,"month":4,"date":1},{"year":2009,"month":7,"date":1},{"year":2009,"month":10,"date":1},{"year":2010,"month":1,"date":1},{"year":2010,"month":4,"date":1},{"year":2010,"month":7,"date":1},{"year":2010,"month":10,"date":1},{"year":2011,"month":1,"date":1},{"year":2011,"month":4,"date":1},{"year":2011,"month":7,"date":1},{"year":2011,"month":10,"date":1},{"year":2012,"month":1,"date":1},{"year":2012,"month":4,"date":1},{"year":2012,"month":7,"date":1},{"year":2012,"month":10,"date":1},{"year":2013,"month":1,"date":1},{"year":2013,"month":4,"date":1},{"year":2013,"month":7,"date":1},{"year":2013,"month":10,"date":1},{"year":2014,"month":1,"date":1},{"year":2014,"month":4,"date":1},{"year":2014,"month":7,"date":1},{"year":2014,"month":10,"date":1},{"year":2015,"month":1,"date":1},{"year":2015,"month":4,"date":1},{"year":2015,"month":7,"date":1},{"year":2015,"month":10,"date":1},{"year":2016,"month":1,"date":1},{"year":2016,"month":4,"date":1},{"year":2016,"month":7,"date":1},{"year":2016,"month":10,"date":1},{"year":2017,"month":1,"date":1}],
    "labelExpr":"month(datum.value) == 0 ? timeFormat(datum.value, '%m/%d/%y') : ''",
    "labelOverlap":false,"labelFlush":false,"labelBound":false,
    "labelFont":"Liberation Sans","labelFontSize":20,"labelColor":"#222","labelPadding":24,
    "grid":true,"gridDash":[2,3],"gridColor":"#999","gridWidth":1,
    "gridOpacity":{"condition":{"test":"month(datum.value) == 0","value":1},"value":0},
    "tickSize":{"condition":{"test":"month(datum.value) == 0","value":-7},"value":-4},
    "tickColor":"#555","tickWidth":1,"domain":false,
    "title":"Date","titleFont":"Liberation Sans","titleFontSize":20,"titleFontWeight":"normal","titleColor":"#222","titlePadding":10}},
  "y":{"field":"sec","type":"quantitative","scale":{"domain":[0,300],"nice":false},
   "axis":{"orient":"left","values":[0,50,100,150,200,250,300],
    "labelFont":"Liberation Sans","labelFontSize":20,"labelColor":"#222","labelPadding":24,
    "grid":true,"gridDash":[2,3],"gridColor":"#999","gridWidth":1,
    "tickSize":-7,"tickColor":"#555","domain":false,
    "title":"Seconds","titleFont":"Liberation Sans","titleFontSize":20,"titleFontWeight":"normal","titleColor":"#222","titlePadding":25}}}},
{"mark":{"type":"point","opacity":0},
 "encoding":{
  "x":{"field":"day","aggregate":"min","type":"temporal",
   "axis":{"orient":"top","values":[{"year":2007,"month":10,"date":1},{"year":2008,"month":1,"date":1},{"year":2008,"month":4,"date":1},{"year":2008,"month":7,"date":1},{"year":2008,"month":10,"date":1},{"year":2009,"month":1,"date":1},{"year":2009,"month":4,"date":1},{"year":2009,"month":7,"date":1},{"year":2009,"month":10,"date":1},{"year":2010,"month":1,"date":1},{"year":2010,"month":4,"date":1},{"year":2010,"month":7,"date":1},{"year":2010,"month":10,"date":1},{"year":2011,"month":1,"date":1},{"year":2011,"month":4,"date":1},{"year":2011,"month":7,"date":1},{"year":2011,"month":10,"date":1},{"year":2012,"month":1,"date":1},{"year":2012,"month":4,"date":1},{"year":2012,"month":7,"date":1},{"year":2012,"month":10,"date":1},{"year":2013,"month":1,"date":1},{"year":2013,"month":4,"date":1},{"year":2013,"month":7,"date":1},{"year":2013,"month":10,"date":1},{"year":2014,"month":1,"date":1},{"year":2014,"month":4,"date":1},{"year":2014,"month":7,"date":1},{"year":2014,"month":10,"date":1},{"year":2015,"month":1,"date":1},{"year":2015,"month":4,"date":1},{"year":2015,"month":7,"date":1},{"year":2015,"month":10,"date":1},{"year":2016,"month":1,"date":1},{"year":2016,"month":4,"date":1},{"year":2016,"month":7,"date":1},{"year":2016,"month":10,"date":1},{"year":2017,"month":1,"date":1}],
    "labels":false,"grid":false,"domain":false,"title":null,
    "tickSize":{"condition":{"test":"month(datum.value) == 0","value":-7},"value":-4},
    "tickColor":"#555","tickWidth":1}},
  "y":{"field":"sec","aggregate":"min","type":"quantitative",
   "axis":{"orient":"right","values":[0,50,100,150,200,250,300],"labels":false,"grid":false,"domain":false,"title":null,"tickSize":-7,"tickColor":"#555","tickWidth":1}}}}
],
"resolve":{"axis":{"x":"independent","y":"independent"}}
}
